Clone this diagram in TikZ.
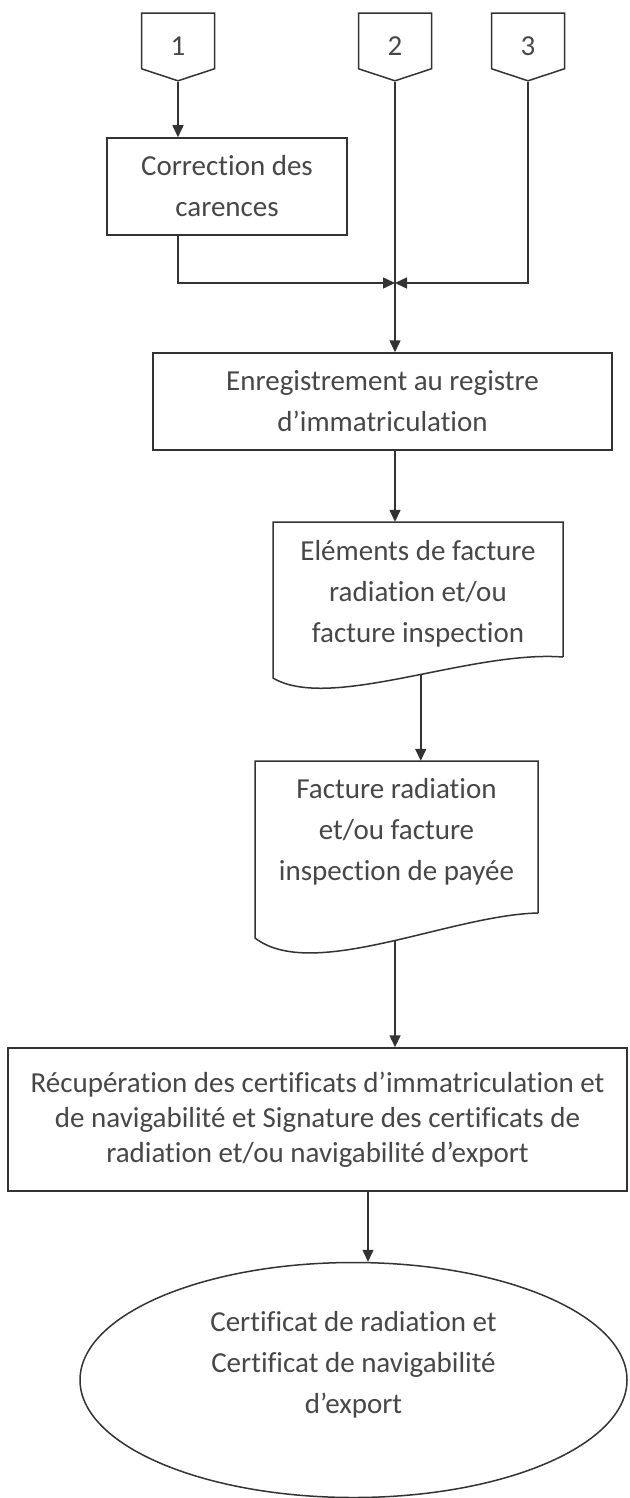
\documentclass[tikz,border=0pt]{standalone}
\usepackage{fontspec}
\setmainfont{Carlito}[RawFeature=-liga]
\usetikzlibrary{arrows.meta,shapes.symbols,shapes.geometric}
\definecolor{linec}{gray}{0.2}
\definecolor{textc}{gray}{0.28}

\begin{document}
\begin{tikzpicture}[x=1pt,y=-1pt,
		every node/.style={text=textc, font=\fontsize{29}{41}\selectfont, align=center, inner sep=0pt},
		box/.style={draw=linec, line width=1.5pt, rectangle},
		offpage/.style={draw=linec, line width=1.5pt, signal, signal to=south, signal pointer angle=143.6, minimum width=73, minimum height=58, text height=28.5pt, text depth=0pt},
		docline/.style={draw=linec, line width=1.5pt, line join=miter},
		link/.style={draw=linec, line width=1.5pt, -{Triangle[length=12pt,width=11pt]}}]
		\useasboundingbox (0,0) rectangle (629,1498);
		% renvois
		\node [offpage] (p1) at (178,41) {1};
		\node [offpage] (p2) at (395,41) {2};
		\node [offpage] (p3) at (528,41) {3};
		\coordinate (mrg) at (395,283);
		% etapes
		\node [box, minimum width=240, minimum height=97] (cor) at (227,186.5) {Correction des\\carences};
		\node [box, minimum width=459, minimum height=97] (enr) at (382.5,401.5) {Enregistrement au registre\\d’immatriculation};
		\node [minimum width=290, minimum height=144] (ele) at (418,594) {Eléments de facture\\radiation et/ou\\facture inspection};
		\draw [docline] (563,657) -- (563,522) -- (273,522) -- (273,678) .. controls (330,712) and (470,650) .. (563,657) coordinate [pos=0.55] (elew);
		\node [minimum width=283, minimum height=142] (fac) at (396.5,832) {Facture radiation\\et/ou facture\\inspection de payée};
		\draw [docline] (538,913) -- (538,761) -- (255,761) -- (255,938) .. controls (312,982) and (450,915) .. (538,913) coordinate [pos=0.532] (facw);
		\node [box, minimum width=619, minimum height=143, font=\fontsize{29}{35}\selectfont] (rec) at (317.5,1119.5) {Récupération des certificats d’immatriculation et\\de navigabilité et Signature des certificats de\\radiation et/ou navigabilité d’export};
		\node [draw=linec, line width=1.5pt, ellipse, minimum width=547, minimum height=235] (fin) at (353.5,1380) {Certificat de radiation et\\Certificat de navigabilité\\d’export\\[-5pt]\mbox{}};
		% liaisons
		\draw [link] (p1.south) -- (cor.north -| p1.south);
		\draw [link] (cor.south -| p1.south) -- (p1.south |- mrg) -- (mrg);
		\draw [link] (p3.south) -- (p3.south |- mrg) -- (mrg);
		\draw [link] (p2.south) -- (enr.north -| p2.south);
		\draw [link] (enr.south -| p2.south) -- (ele.north -| p2.south);
		\draw [link] (elew) -- (elew |- fac.north);
		\draw [link] (facw) -- (facw |- rec.north);
		\draw [link] ([xshift=50.5]rec.south) -- ([xshift=50.5]rec.south |- fin.north);
	\end{tikzpicture}
\end{document}
